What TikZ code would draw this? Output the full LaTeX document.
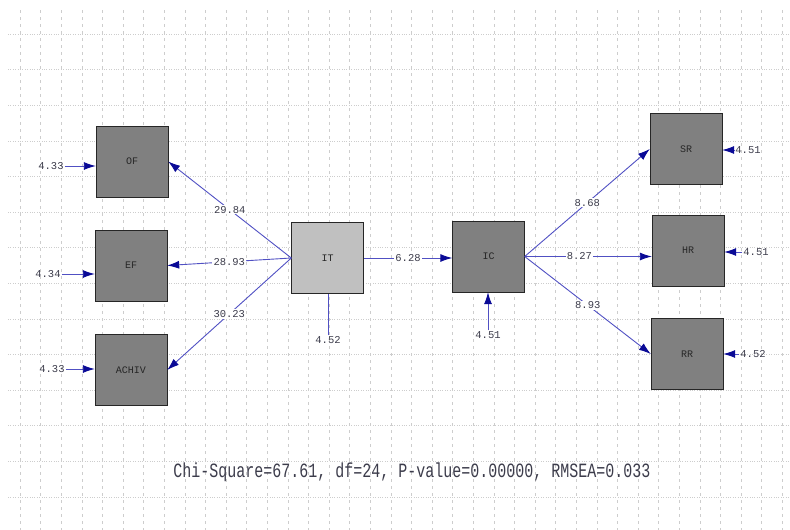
\documentclass[tikz,border=0pt]{standalone}
\usepackage{fontspec}
\setmonofont{Liberation Mono}
\usetikzlibrary{arrows.meta,positioning}
\definecolor{pathblue}{RGB}{80,80,195}
\definecolor{tipblue}{RGB}{10,10,150}
\definecolor{boxgray}{RGB}{128,128,128}
\definecolor{exogray}{RGB}{192,192,192}
\definecolor{numgray}{RGB}{60,60,75}
\definecolor{gridgray}{RGB}{205,205,205}

\begin{document}
\begin{tikzpicture}[x=1pt,y=-1pt,font=\ttfamily]
        \tikzstyle{var} = [draw=black!85, fill=boxgray, minimum width=72pt, minimum height=71pt, inner sep=0pt, text=black!85, font=\ttfamily\fontsize{10}{10}\selectfont]
        \tikzstyle{num} = [inner sep=1pt, text=numgray, font=\ttfamily\fontsize{10.5}{10.5}\selectfont]
        \tikzstyle{onpath} = [num, fill=white, pos=0.5]
        \tikzstyle{path} = [pathblue, line width=0.9pt, -{Latex[length=12pt,width=8pt,color=tipblue]}]
        \useasboundingbox (0,0) rectangle (790,530);

        % background grid
        \foreach \k in {0,...,13}
            \draw[gridgray, dotted] (8,{34+35.6*\k}) -- (790,{34+35.6*\k});
        \foreach \k in {0,...,37}
            \draw[gridgray, dash pattern=on 3pt off 4pt] ({20+20.6*\k},10) -- ({20+20.6*\k},530);

        % variables
        \node[var] (OF) at (132,161.5) {OF};
        \node[var] (EF) at (131,265.5) {EF};
        \node[var] (ACHIV) at (131,370) {ACHIV};
        \node[var, fill=exogray] (IT) at (327.5,258) {IT};
        \node[var] (IC) at (488.5,256.5) {IC};
        \node[var] (SR) at (686,149) {SR};
        \node[var] (HR) at (688,250.5) {HR};
        \node[var] (RR) at (687,354) {RR};

        % error terms
        \node[num] (eOF) at (51,166) {4.33};
        \node[num] (eEF) at (48,274) {4.34};
        \node[num] (eACHIV) at (52,369) {4.33};
        \node[num] (eIT) at (328,340) {4.52};
        \node[num] (eIC) at (488,335) {4.51};
        \node[num] (eSR) at (748,150) {4.51};
        \node[num] (eHR) at (756,252) {4.51};
        \node[num] (eRR) at (753,354) {4.52};

        \draw [path] (eOF) -- (OF.west |- eOF);
        \draw [path] (eEF) -- (EF.west |- eEF);
        \draw [path] (eACHIV) -- (ACHIV.west |- eACHIV);
        \draw [pathblue, line width=0.9pt] (eIT) -- (eIT |- IT.south);
        \draw [path] (eIC) -- (eIC |- IC.south);
        \draw [path] (eSR) -- (SR.east |- eSR);
        \draw [path] (eHR) -- (HR.east |- eHR);
        \draw [path] (eRR) -- (RR.east |- eRR);

        % structural paths
        \draw [path] (IT.west) -- node[onpath] {29.84} (OF.east);
        \draw [path] (IT.west) -- node[onpath] {28.93} (EF.east);
        \draw [path] (IT.west) -- node[onpath] {30.23} (ACHIV.east);
        \draw [path] (IT.east) -- node[onpath] {6.28} (IT.east -| IC.west);
        \draw [path] (IC.east) -- node[onpath] {8.68} (SR.west);
        \draw [path] (IC.east) -- node[onpath, pos=0.43] {8.27} (IC.east -| HR.west);
        \draw [path] (IC.east) -- node[onpath] {8.93} (RR.west);

        % fit statistics
        \node[text=numgray, yscale=1.35, font=\ttfamily\fontsize{15}{15}\selectfont] (fit) at (412,472) {Chi-Square=67.61, df=24, P-value=0.00000, RMSEA=0.033};
\end{tikzpicture}
\end{document}
